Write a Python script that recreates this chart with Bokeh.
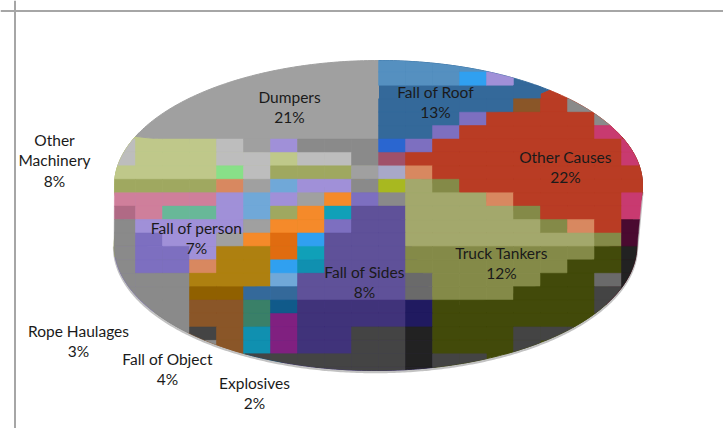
import math
from bokeh.plotting import figure
from bokeh.models import Range1d, Span
from bokeh.core.properties import value
from bokeh.embed import file_html
from bokeh.resources import INLINE

categories = ["Fall of Roof", "Other Causes", "Truck Tankers", "Fall of Sides", "Explosives",
              "Fall of Object", "Rope Haulages", "Fall of person", "Other Machinery", "Dumpers"]
percent = [13, 22, 12, 8, 2, 4, 3, 7, 8, 21]

# styling and layout, separate from the values
top_colors = ["#34699a", "#b93c24", "#a3a86c", "#5f5199", "#30a0f0",
              "#ae8010", "#808080", "#a090d8", "#bfc88a", "#a0a0a0"]
wall_colors = ["#234a70", "#5a1020", "#424a0a", "#40337a", "#105a8a",
               "#8a5628", "#808080", "#7d6fc0", "#9fa860", "#808080"]
label_lines = [["Fall of Roof"], ["Other Causes"], ["Truck Tankers"], ["Fall of Sides"], ["Explosives"],
               ["Fall of Object"], ["Rope Haulages"], ["Fall of person"], ["Other", "Machinery"], ["Dumpers"]]
label_x = [435, 565, 501, 364, 254, 167, 78, 196, 54, 289]
label_y = [91, 156, 252, 271, 382, 358, 330, 227, 139, 96]

palette = {
    "D": "#a0a0a0", "L": "#bdbdbd", "M": "#8a8a8a", "A": "#bfc88a", "a": "#9fa860", "P": "#cf7f9b",
    "p": "#b06a85", "V": "#a090d8", "v": "#7d6fc0", "S": "#5f5199", "I": "#40337a", "B": "#34699a",
    "b": "#5590c0", "r": "#b93c24", "T": "#a3a86c", "t": "#848a48", "O": "#424a0a", "K": "#444444",
    "k": "#222222", "N": "#f58a2a", "n": "#e06c10", "G": "#ae8010", "g": "#906000", "W": "#8a5628",
    "C": "#70a8d8", "c": "#30a0f0", "E": "#3a8068", "m": "#802080", "e": "#105a8a", "Q": "#1090b0",
    "q": "#10a0b8", "d": "#201a60", "X": "#4a0a30", "F": "#c83a70", "Y": "#a8b820", "H": "#68b898",
    "J": "#88e088", "Z": "#d88860", "i": "#6a6a6a", "j": "#a0506a", "y": "#a8a8c8", "u": "#2a66d0",
}
# the reference's blocky compression texture, one letter per block ('.' shows the slice itself)
texture = [
    "..........bbbbb.....",
    "..........bbbcV.....",
    "...............B....",
    "..........BBBBBWrM..",
    "..........BBBvrrrrM.",
    "..........BBvrrrrrF.",
    "LAAALDVMMMuvrrrrrrrF",
    "LAAALLALLMjrrrrrrrrF",
    "AAAAJLaaaDyZrrrrrrrr",
    "aaaaZDCVVMYTtrrrrrrr",
    "PPPPVCVDNvMTTTZrrrrF",
    "pPHHVCaNqSSTTTTtrrrF",
    "MVVVVDNNvSSTTTTTtZrX",
    "MvVVDNncSSSTTTTTTTtX",
    "MvvVGGnqSSStttttttOk",
    "MvvZGGcQSSSttttttOOk",
    "MMMGGGCSSSSittttOOik",
    "MMMggBBSSSSitttOOOKk",
    "MMMWWEeIIIIdOOOOOOK.",
    "MMMWWEmIIIIdOOOOOO..",
    "MMMKWQmIIKKkOOOKKK..",
    "MMMMWQmIIKKkOOOK....",
    ".....KKKKKKkKK......",
    ".....KKKKKKkK.......",
]

CX, CY, A, B, K_P, DEPTH = 378.0, 165.0, 260.6, 121.8, 0.16, 60.0
TILE_W, TILE_H, TILE_X0, TILE_Y0 = 27.0, 13.42, 108.0, 58.0


def rim(theta):
    u, v = math.sin(theta), math.cos(theta)
    w = 1 + K_P * v
    return CX + A * u / w, CY - B * v / w


def rim_low(theta):
    x, y = rim(theta)
    return 375 + (x - CX) * 0.99, y + DEPTH


def hull(points):
    pts = sorted(set(points))
    def half(seq):
        out = []
        for q in seq:
            while len(out) > 1 and (out[-1][0]-out[-2][0])*(q[1]-out[-2][1]) - (out[-1][1]-out[-2][1])*(q[0]-out[-2][0]) <= 0:
                out.pop()
            out.append(q)
        return out[:-1]
    return half(pts) + half(pts[::-1])


def clip_rect(poly, x0, y0, x1, y1):
    def clip(pts, inside, cross):
        out = []
        for i, cur in enumerate(pts):
            prev = pts[i - 1]
            if inside(cur):
                if not inside(prev):
                    out.append(cross(prev, cur))
                out.append(cur)
            elif inside(prev):
                out.append(cross(prev, cur))
        return out
    def at_x(c):
        return lambda a, b: (c, a[1] + (b[1]-a[1]) * (c-a[0]) / (b[0]-a[0]))
    def at_y(c):
        return lambda a, b: (a[0] + (b[0]-a[0]) * (c-a[1]) / (b[1]-a[1]), c)
    for inside, cross in [(lambda p: p[0] >= x0, at_x(x0)), (lambda p: p[0] <= x1, at_x(x1)),
                          (lambda p: p[1] >= y0, at_y(y0)), (lambda p: p[1] <= y1, at_y(y1))]:
        if not poly:
            return poly
        poly = clip(poly, inside, cross)
    return poly


p = figure(width=723, height=428, output_backend="svg", toolbar_location=None,
           x_range=Range1d(0, 723), y_range=Range1d(428, 0), min_border=0,
           x_axis_type=None, y_axis_type=None, outline_line_color=None, background_fill_color="white")
p.grid.visible = False

for loc, dim in [(14.5, "height"), (10.5, "width")]:
    p.add_layout(Span(location=loc, dimension=dim, line_color="#a6a6a6", line_width=2))

total = sum(percent)
cum = 0.0
angles = []
for val in percent:
    angles.append((cum / total * 2 * math.pi, (cum + val) / total * 2 * math.pi))
    cum += val

steps = [i / 720 * 2 * math.pi for i in range(720)]
outline = hull([rim(t) for t in steps] + [rim_low(t) for t in steps])

# outer shadow along the rim
lower = [q for q in outline if q[1] > 190]
lower.sort(key=lambda q: q[0])
p.line([q[0] for q in lower], [q[1] + 1.5 for q in lower], line_color="#999999", line_width=2.5, line_alpha=0.6)

# side wall, then the top face
for (t0, t1), col in zip(angles, wall_colors):
    n = max(2, int((t1 - t0) * 60))
    ts = [t0 + (t1 - t0) * i / n for i in range(n + 1)]
    vis = [t for t in ts if math.pi / 2 - 0.3 < t < 3 * math.pi / 2 + 0.3]
    if len(vis) > 1:
        pts = [rim(t) for t in vis] + [rim_low(t) for t in vis[::-1]]
        p.patch([q[0] for q in pts], [q[1] for q in pts], fill_color=col, line_color=col)
for (t0, t1), col in zip(angles, top_colors):
    n = max(2, int((t1 - t0) * 60))
    pts = [(CX, CY)] + [rim(t0 + (t1 - t0) * i / n) for i in range(n + 1)]
    p.patch([q[0] for q in pts], [q[1] for q in pts], fill_color=col, line_color=col)

# block texture, clipped to the pie's outline
xs, ys, cols = [], [], []
for r, row in enumerate(texture):
    for c, ch in enumerate(row):
        if ch == ".":
            continue
        x0, y0 = TILE_X0 + c * TILE_W, TILE_Y0 + r * TILE_H
        poly = clip_rect(outline, x0, y0, x0 + TILE_W, y0 + TILE_H)
        if len(poly) > 2:
            xs.append([q[0] for q in poly])
            ys.append([q[1] for q in poly])
            cols.append(palette[ch])
p.patches(xs, ys, fill_color=cols, line_color=cols, line_width=0.5)

# labels
tx, ty, tt = [], [], []
for cat, val, lines, lx, ly in zip(categories, percent, label_lines, label_x, label_y):
    for i, s in enumerate(lines + [f"{val}%"]):
        tx.append(lx)
        ty.append(ly + i * 20.5)
        tt.append(s)
p.text(tx, ty, text=tt, text_font=value("Lato"), text_font_size="15.5px", text_color="#1a1a1a",
       text_align="center", text_baseline="middle")

open("out.html", "w").write(file_html(p, INLINE))
